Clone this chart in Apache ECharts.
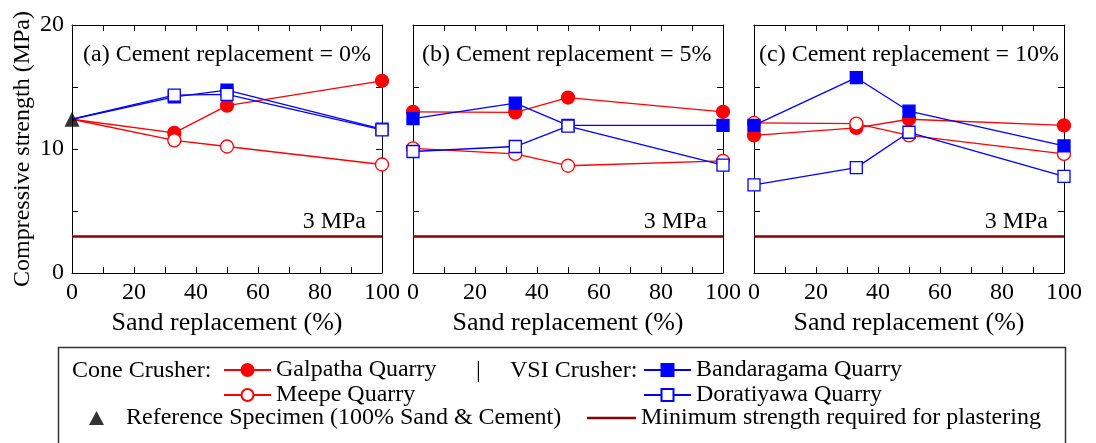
<!DOCTYPE html>
<html>
<head>
<meta charset="utf-8">
<script src="https://cdn.jsdelivr.net/npm/echarts@6/dist/echarts.min.js"></script>
<style>
html, body { margin: 0; background: #fff; }
#chart { width: 1096px; height: 443px; }
</style>
</head>
<body>
<div id="chart"></div>
<script>
// sand replacement levels (%)
const sandX = [0, 33, 50, 100];
const panelTitles = ['(a) Cement replacement = 0%', '(b) Cement replacement = 5%', '(c) Cement replacement = 10%'];
// reference specimen (100% sand & cement) and plastering minimum
const refValue = 12.4;
const threshold = 3;
// compressive strength (MPa), one row per panel; panel (a) starts at the reference
const galpatha = [[12.4, 11.3, 13.5, 15.5], [13.0, 12.95, 14.15, 13.0], [11.1, 11.7, 12.4, 11.9]];
const meepe = [[12.4, 10.7, 10.2, 8.75], [10.05, 9.6, 8.65, 9.05], [12.1, 12.05, 11.1, 9.6]];
const bandaragama = [[12.4, 14.2, 14.75, 11.6], [12.45, 13.7, 11.9, 11.9], [11.9, 15.75, 13.05, 10.25]];
const doratiyawa = [[12.4, 14.35, 14.4, 11.55], [9.8, 10.2, 11.85, 8.7], [7.1, 8.5, 11.35, 7.8]];

const FONT = '"Liberation Serif", "Times New Roman", serif';
const gridLefts = [72, 413, 754];

const quarries = [
	{ name: 'Galpatha Quarry', values: galpatha, color: '#ff0000', fill: '#ff0000', symbol: 'circle', size: 13 },
	{ name: 'Meepe Quarry', values: meepe, color: '#ff0000', fill: '#ffffff', symbol: 'circle', size: 13 },
	{ name: 'Bandaragama Quarry', values: bandaragama, color: '#0000ff', fill: '#0000ff', symbol: 'rect', size: 12 },
	{ name: 'Doratiyawa Quarry', values: doratiyawa, color: '#0000ff', fill: '#ffffff', symbol: 'rect', size: 12 }
];
const refName = 'Reference Specimen (100% Sand & Cement)';
const minName = 'Minimum strength required for plastering';

const chart = echarts.init(document.getElementById('chart'));

function axisBase(gridIndex) {
	return {
		gridIndex,
		axisLine: { show: true, onZero: false, lineStyle: { color: '#000', width: 1 } },
		axisTick: { show: true, inside: true, length: 6, lineStyle: { color: '#000' } },
		minorTick: { show: true, splitNumber: 2, length: 6, lineStyle: { color: '#000' } },
		splitLine: { show: false },
		minorSplitLine: { show: false }
	};
}

const grid = gridLefts.map((left) => ({ left, top: 25, width: 310, height: 248 }));
const xAxis = [];
const yAxis = [];
[0, 1, 2].forEach((i) => {
	xAxis.push(Object.assign(axisBase(i), {
		type: 'value', min: 0, max: 100, interval: 20, position: 'bottom',
		axisLabel: { fontFamily: FONT, fontSize: 24, color: '#000', margin: 8 },
		name: 'Sand replacement (%)', nameLocation: 'middle', nameGap: 35,
		nameTextStyle: { fontFamily: FONT, fontSize: 26, color: '#000' }
	}));
});
[0, 1, 2].forEach((i) => {
	xAxis.push(Object.assign(axisBase(i), {
		type: 'value', min: 0, max: 100, interval: 20, position: 'top',
		axisLabel: { show: false }
	}));
});
[0, 1, 2].forEach((i) => {
	yAxis.push(Object.assign(axisBase(i), {
		type: 'value', min: 0, max: 20, interval: 10, position: 'left',
		axisLabel: { show: i === 0, fontFamily: FONT, fontSize: 24, color: '#000', margin: 8 },
		name: i === 0 ? 'Compressive strength (MPa)' : '', nameLocation: 'middle', nameGap: 37,
		nameTextStyle: { fontFamily: FONT, fontSize: 24, color: '#000' }
	}));
});
[0, 1, 2].forEach((i) => {
	yAxis.push(Object.assign(axisBase(i), {
		type: 'value', min: 0, max: 20, interval: 10, position: 'right',
		axisLabel: { show: false }
	}));
});

const series = [];
[0, 1, 2].forEach((p) => {
	series.push({
		type: 'line',
		name: minName,
		xAxisIndex: p,
		yAxisIndex: p,
		data: [],
		symbol: 'none',
		lineStyle: { color: '#8b0000', width: 2.5 },
		itemStyle: { color: '#8b0000' },
		markLine: {
			silent: true,
			symbol: ['none', 'none'],
			lineStyle: { color: '#8b0000', width: 2.5, type: 'solid' },
			label: {
				formatter: '3 MPa', position: 'insideEndTop', distance: [16, 2],
				fontFamily: FONT, fontSize: 24, color: '#000'
			},
			data: [{ yAxis: threshold }]
		}
	});
	quarries.forEach((q, k) => {
		series.push({
			type: 'line',
			name: q.name,
			xAxisIndex: p,
			yAxisIndex: p,
			z: 3 + k,
			data: sandX.map((x, j) => (p === 0 && j === 0)
				? { value: [x, q.values[p][j]], symbol: 'none' }
				: [x, q.values[p][j]]),
			symbol: q.symbol,
			symbolSize: q.size,
			lineStyle: { color: q.color, width: 1.3 },
			itemStyle: { color: q.fill, borderColor: q.color, borderWidth: 1.3 }
		});
	});
});
series.push({
	type: 'scatter',
	name: refName,
	xAxisIndex: 0,
	yAxisIndex: 0,
	z: 10,
	data: [[0, refValue]],
	symbol: 'triangle',
	symbolSize: 15,
	itemStyle: { color: '#000' }
});

const legendBase = {
	orient: 'horizontal', padding: 0, itemGap: 0, itemWidth: 47, itemHeight: 15,
	selectedMode: false,
	textStyle: { fontFamily: FONT, fontSize: 24, color: '#000' }
};
const legend = [
	Object.assign({}, legendBase, { data: ['Galpatha Quarry'], left: 223, top: 358 }),
	Object.assign({}, legendBase, { data: ['Meepe Quarry'], left: 223, top: 383 }),
	Object.assign({}, legendBase, { data: ['Bandaragama Quarry'], left: 643, top: 358 }),
	Object.assign({}, legendBase, { data: ['Doratiyawa Quarry'], left: 643, top: 383 }),
	Object.assign({}, legendBase, {
		data: [refName], left: 89, top: 406, itemWidth: 15, itemHeight: 14,
		textStyle: { fontFamily: FONT, fontSize: 24, color: '#000', padding: [0, 0, 0, 17] }
	}),
	Object.assign({}, legendBase, {
		data: [{ name: minName, icon: 'rect' }], left: 587, top: 406, itemWidth: 49, itemHeight: 2.5
	})
];

const title = panelTitles.map((t, i) => ({
	text: t,
	left: [83, 422, 759][i],
	top: 43,
	padding: 0,
	textStyle: { fontFamily: FONT, fontSize: 24, fontWeight: 'normal', color: '#000' }
}));

const textStyle = { fontFamily: FONT, fontSize: 24, fill: '#000', verticalAlign: 'middle' };
const graphic = [
	{ type: 'rect', left: 56, top: 345, shape: { width: 1007, height: 110 }, style: { fill: 'none', stroke: '#333', lineWidth: 1.5 } },
	{ type: 'text', x: 72, y: 371, style: Object.assign({ text: 'Cone Crusher:' }, textStyle) },
	{ type: 'text', x: 476, y: 371, style: Object.assign({ text: '|' }, textStyle) },
	{ type: 'text', x: 510, y: 371, style: Object.assign({ text: 'VSI Crusher:' }, textStyle) }
];

chart.setOption({
	animation: false,
	backgroundColor: '#fff',
	title,
	grid,
	xAxis,
	yAxis,
	series,
	legend,
	graphic
});
</script>
</body>
</html>
